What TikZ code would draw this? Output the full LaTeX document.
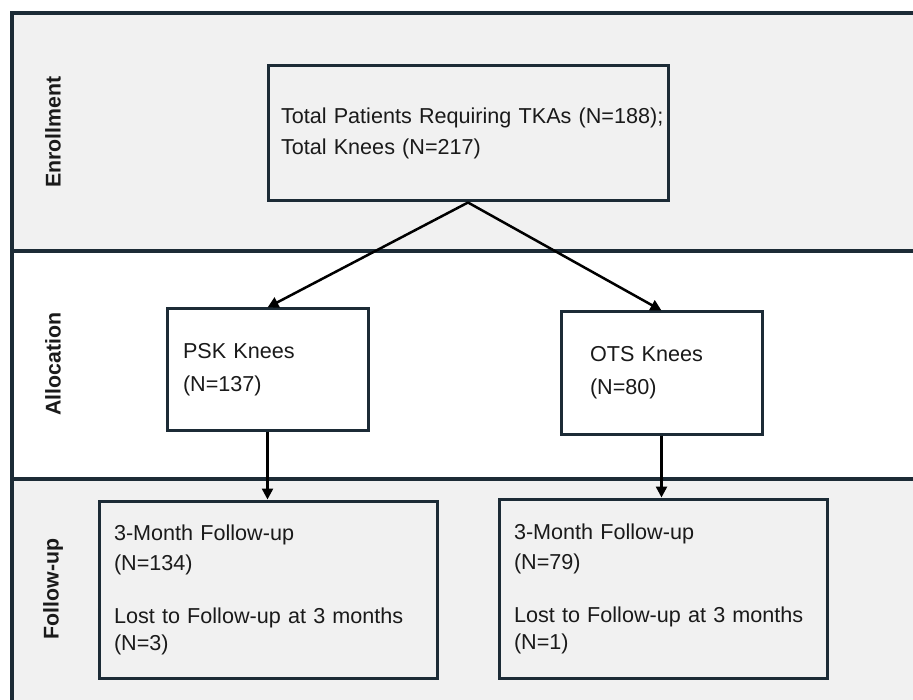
\documentclass[tikz,border=0pt]{standalone}
\usepackage{fontspec}
\setmainfont{Liberation Sans}
\usetikzlibrary{arrows.meta,calc}
\definecolor{framenavy}{HTML}{1C2B36}
\definecolor{bandgrey}{HTML}{F1F1F1}
\definecolor{inkblack}{HTML}{1A1A1A}

\begin{document}
\begin{tikzpicture}[x=1pt,y=-1pt,%1pt = 1px of the reference
         divider/.style = {draw=framenavy,line width=4pt},
         stagebox/.style = {draw=framenavy,line width=3pt,align=left,
            inner ysep=0pt,text=inkblack,
            font=\fontsize{21.6}{26.5}\selectfont},
         stagelabel/.style = {rotate=90,text=inkblack,
            font=\bfseries\fontsize{21.3}{26}\selectfont},
         flow/.style = {line width=2.5pt,black,
            -{Triangle[length=11pt,width=11pt]}}
]
   \useasboundingbox (0,0) rectangle (913,700);
   \clip (0,0) rectangle (913,700);
   \fill[white] (0,0) rectangle (913,700);

   % bands
   \fill[bandgrey] (12,13) rectangle (913,251);
   \fill[bandgrey] (12,479) rectangle (913,700);
   \draw[divider] (12,705) -- (12,13) -- (918,13);
   \draw[divider] (12,251) -- (918,251);
   \draw[divider] (12,479) -- (918,479);

   \node[stagelabel] (enroll) at (53,132) {Enrollment};
   \node[stagelabel] (alloc)  at (53,364) {Allocation};
   \node[stagelabel] (follow) at (53,589) {Follow-up};

   % boxes
   \node[stagebox,fill=bandgrey,minimum width=400pt,minimum height=135pt,
      inner xsep=13pt,text width=374pt] (total) at (468,133.5)
      {\vspace*{5pt}\mbox{Total Patients Requiring TKAs (N=188);}\\Total Knees (N=217)};
   \node[stagebox,fill=white,minimum width=201pt,minimum height=121pt,
      inner xsep=16pt,text width=169pt] (psk) at (267.5,369.5)
      {\vspace*{5pt}PSK Knees\\[1.5pt](N=137)};
   \node[stagebox,fill=white,minimum width=201pt,minimum height=122pt,
      inner xsep=29pt,text width=143pt] (ots) at (661.5,373)
      {\vspace*{5pt}OTS Knees\\[1.5pt](N=80)};
   \node[stagebox,fill=bandgrey,minimum width=338pt,minimum height=177pt,
      inner xsep=15pt,text width=308pt] (fupsk) at (268,589.5)
      {\vspace*{4pt}3-Month Follow-up\\(N=134)\\[26.5pt]Lost to Follow-up at 3 months\\(N=3)};
   \node[stagebox,fill=bandgrey,minimum width=328pt,minimum height=179pt,
      inner xsep=15pt,text width=298pt] (fuots) at (663,588.5)
      {\vspace*{4pt}3-Month Follow-up\\(N=79)\\[26.5pt]Lost to Follow-up at 3 months\\(N=1)};

   % arrows
   \draw[flow] (total.south) -- (psk.north);
   \draw[flow] (total.south) -- (ots.north);
   \draw[flow] (psk.south) -- (psk.south |- fupsk.north);
   \draw[flow] (ots.south) -- (ots.south |- fuots.north);
\end{tikzpicture}
\end{document}
